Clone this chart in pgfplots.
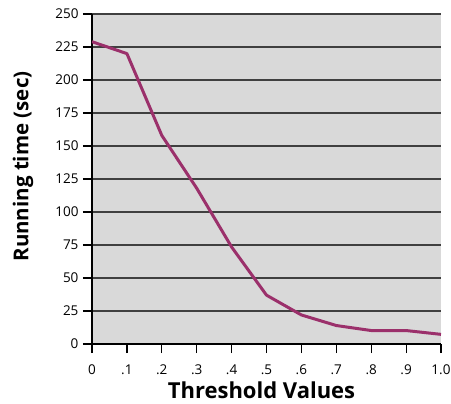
\documentclass[border=0pt]{standalone}
\usepackage{pgfplots}
\pgfplotsset{compat=1.18}
\usepackage{fontspec}
\setmainfont{Open Sans}
\definecolor{plotbg}{RGB}{217,217,217}
\definecolor{linec}{RGB}{155,48,107}
\begin{document}
\begin{tikzpicture}
  \begin{axis}[name=ax,
      scale only axis,
      width=349pt, height=330pt,
      xmin=0, xmax=1, ymin=0, ymax=250,
      axis lines=left,
      axis line style={black, line width=1.3pt, -},
      axis background/.style={fill=plotbg},
      xtick={0,0.1,...,1.0},
      xticklabels={0,.1,.2,.3,.4,.5,.6,.7,.8,.9,1.0},
      ytick={0,25,...,250},
      ymajorgrids=true,
      grid style={black!75, line width=1.2pt},
      tick style={black, line width=1.2pt},
      tick align=outside,
      major tick length=9pt,
      /pgf/number format/assume math mode=true,
      tick label style={font=\fontsize{13.5}{15}\selectfont},
      xticklabel style={yshift=-8pt},
      yticklabel style={xshift=-1pt},
      xlabel={Threshold Values},
      ylabel={Running time (sec)},
      xlabel style={font=\bfseries\fontsize{22}{25}\selectfont,
        at={(axis description cs:0.5,0)}, anchor=base, yshift=-54pt, xshift=-5pt},
      ylabel style={font=\bfseries\fontsize{20.5}{24}\selectfont,
        at={(axis description cs:-0.158,0.538)}, anchor=south},
    ]
    \addplot[color=linec, line width=3pt, line join=round] coordinates {
      (0,229) (0.1,220) (0.2,158) (0.3,118) (0.4,73.5) (0.5,37)
      (0.6,22) (0.7,14) (0.8,10.2) (0.9,10.2) (1.0,7.3)
    };
  \end{axis}
  \pgfresetboundingbox
  \path ([xshift=-92pt,yshift=-59pt]ax.south west) rectangle ([xshift=10pt,yshift=14pt]ax.north east);
\end{tikzpicture}
\end{document}
